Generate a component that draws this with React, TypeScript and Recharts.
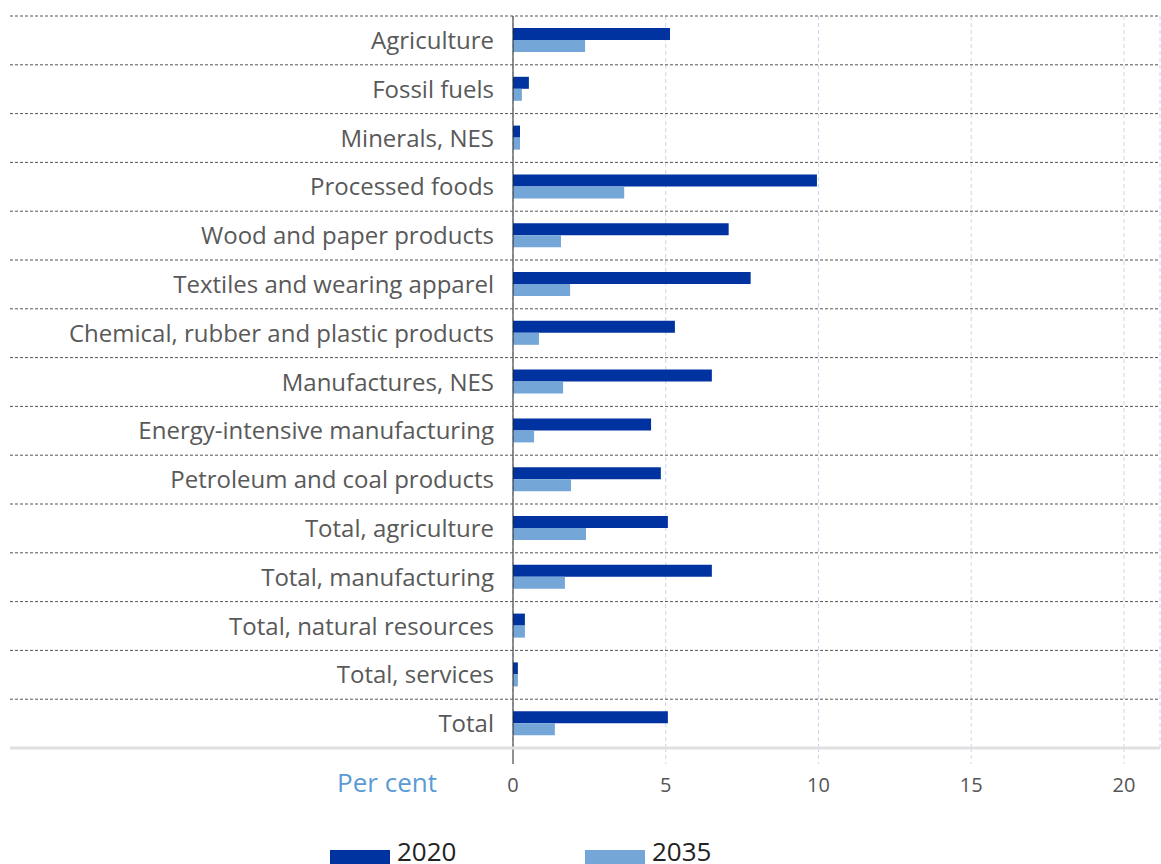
import React from "react";
import { BarChart, Bar, XAxis, YAxis, CartesianGrid } from "recharts";

const categories = [
  "Agriculture",
  "Fossil fuels",
  "Minerals, NES",
  "Processed foods",
  "Wood and paper products",
  "Textiles and wearing apparel",
  "Chemical, rubber and plastic products",
  "Manufactures, NES",
  "Energy-intensive manufacturing",
  "Petroleum and coal products",
  "Total, agriculture",
  "Total, manufacturing",
  "Total, natural resources",
  "Total, services",
  "Total",
];
const values2020 = [5.14, 0.52, 0.23, 9.95, 7.06, 7.78, 5.3, 6.51, 4.52, 4.84, 5.07, 6.51, 0.39, 0.16, 5.07];
const values2035 = [2.36, 0.29, 0.23, 3.64, 1.57, 1.87, 0.85, 1.64, 0.69, 1.9, 2.39, 1.7, 0.39, 0.16, 1.37];
const seriesNames = ["2020", "2035"];
const seriesColors = ["#0033a0", "#74a6d7"];
const xTicks = [0, 5, 10, 15, 20];
const axisUnit = "Per cent";

const data = categories.map((c, i) => ({
  name: c,
  v2020: values2020[i],
  v2035: values2035[i],
}));

const W = 1161;
const H = 864;
const M_TOP = 16;
const PLOT_BOTTOM = 748;
const X_AXIS_H = 30;
const M_BOTTOM = H - PLOT_BOTTOM - X_AXIS_H;
const BAND = (PLOT_BOTTOM - M_TOP) / categories.length;
const FONT = "'Open Sans', Lato, sans-serif";

const YTick = (props: any) => {
  const { x, y, payload, index } = props;
  const isLast = index === categories.length - 1;
  return (
    <g>
      <line x1={10} x2={1160} y1={y - BAND / 2} y2={y - BAND / 2} stroke="#555" strokeDasharray="3 2" strokeWidth={1} />
      {isLast && (
        <line x1={10} x2={1160} y1={y + BAND / 2} y2={y + BAND / 2} stroke="#e0e0e0" strokeWidth={3} />
      )}
      <text x={x} y={y} dy="0.36em" textAnchor="end" fill="#595959" fontSize={24} fontFamily={FONT}>
        {payload.value}
      </text>
    </g>
  );
};

const XTick = (props: any) => {
  const { x, y, payload, index } = props;
  const isZero = payload.value === 0;
  return (
    <g>
      <line
        x1={x}
        x2={x}
        y1={y - 16}
        y2={y}
        stroke={isZero ? "#222" : "#c6d9ef"}
        strokeDasharray={isZero ? undefined : "4 3"}
        strokeWidth={1}
      />
      <text x={x} y={y + 28} textAnchor="middle" fill="#555" fontSize={20} fontFamily={FONT}>
        {payload.value}
      </text>
      {index === 0 && (
        <text x={x - 76} y={y + 28} textAnchor="end" fill="#5b9bd5" fontSize={26} fontFamily={FONT}>
          {axisUnit}
        </text>
      )}
    </g>
  );
};

export default function App() {
  return (
    <div style={{ position: "absolute", left: 0, top: 0, width: W, height: H, background: "#fff" }}>
      <BarChart
        width={W}
        height={H}
        data={data}
        layout="vertical"
        margin={{ top: M_TOP, right: 1, bottom: M_BOTTOM, left: 0 }}
        barGap={0}
      >
        <CartesianGrid horizontal={false} vertical stroke="#c6d9ef" strokeDasharray="4 3" />
        <XAxis
          type="number"
          domain={[0, 21.18]}
          ticks={xTicks}
          height={X_AXIS_H}
          axisLine={false}
          tickLine={false}
          tickSize={16}
          tickMargin={0}
          tick={<XTick />}
          interval={0}
        />
        <YAxis
          type="category"
          dataKey="name"
          width={513}
          axisLine={{ stroke: "#222", strokeWidth: 1 }}
          tickLine={false}
          tickSize={0}
          tickMargin={19}
          tick={<YTick />}
          interval={0}
        />
        <Bar dataKey="v2020" name={seriesNames[0]} fill={seriesColors[0]} barSize={12} isAnimationActive={false} />
        <Bar dataKey="v2035" name={seriesNames[1]} fill={seriesColors[1]} barSize={12} isAnimationActive={false} />
      </BarChart>
      <svg width={W} height={H} style={{ position: "absolute", left: 0, top: 0, pointerEvents: "none" }}>
        {seriesNames.map((n, i) => (
          <g key={n}>
            <rect x={330 + i * 255} y={850} width={60} height={16} fill={seriesColors[i]} />
            <text x={397 + i * 255} y={861} fill="#222" fontSize={26} fontFamily={FONT}>
              {n}
            </text>
          </g>
        ))}
      </svg>
    </div>
  );
}
